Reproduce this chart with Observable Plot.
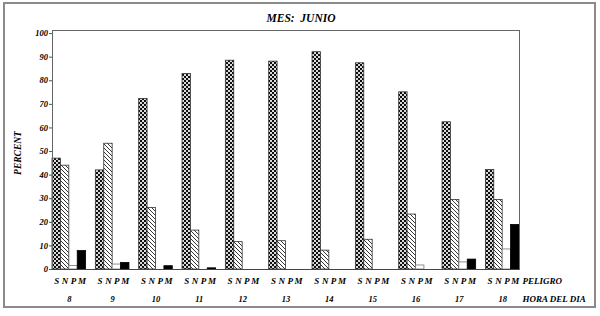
<!DOCTYPE html>
<html>
<head>
<meta charset="utf-8">
<script src="https://cdn.jsdelivr.net/npm/d3@7"></script>
<script src="https://cdn.jsdelivr.net/npm/@observablehq/plot@0.6"></script>
<style>
  html, body { margin: 0; padding: 0; background: #fff; }
  #chart { position: relative; width: 600px; height: 316px; }
</style>
</head>
<body>
<svg width="0" height="0" style="position:absolute">
  <defs>
    <pattern id="pS" width="4" height="4" patternUnits="userSpaceOnUse">
      <rect width="4" height="4" fill="#fff"/>
      <path d="M1,0V4M3,0V4M0,1H4M0,3H4" stroke="#aaa" stroke-width="0.5"/>
      <rect x="0" y="0" width="2" height="2" fill="#111"/>
      <rect x="2" y="2" width="2" height="2" fill="#111"/>
      <rect x="0.5" y="0.5" width="1" height="1" fill="#000"/>
    </pattern>
    <pattern id="pN" width="4" height="4" patternUnits="userSpaceOnUse">
      <rect width="4" height="4" fill="#fff"/>
      <path d="M-1,-1L5,5M-1,3L1,5M3,-1L5,1" stroke="#000" stroke-width="0.8"/>
    </pattern>
  </defs>
</svg>
<div id="chart"></div>
<script>
const title = "MES:  JUNIO";
const hours = [8, 9, 10, 11, 12, 13, 14, 15, 16, 17, 18];
const seriesNames = ["S", "N", "P", "M"];
const valuesS = [47, 42, 72.3, 82.9, 88.5, 88.1, 92.1, 87.4, 75.1, 62.4, 42.2];
const valuesN = [44, 53.3, 26.1, 16.5, 11.6, 12, 8, 12.6, 23.3, 29.5, 29.5];
const valuesP = [1.5, 2.1, 0, 0, 0, 0, 0, 0, 1.7, 3.0, 8.5];
const valuesM = [7.8, 2.8, 1.4, 0.5, 0, 0, 0, 0, 0, 4.2, 18.9];
const yTicks = [0, 10, 20, 30, 40, 50, 60, 70, 80, 90, 100];
const yLabel = "PERCENT";
const rowLabel1 = "PELIGRO";
const rowLabel2 = "HORA DEL DIA";

const seriesValues = {S: valuesS, N: valuesN, P: valuesP, M: valuesM};
const fills = {S: "url(#pS)", N: "url(#pN)", P: "#fff", M: "#000"};
const strokes = {S: "#333", N: "#333", P: "#777", M: "#000"};

const W = 0.194; // bar width in hour units
const bars = [];
hours.forEach((h, hi) => {
  seriesNames.forEach((s, si) => {
    bars.push({hour: h, series: s, si, value: seriesValues[s][hi]});
  });
});
const x1 = d => d.hour + (d.si - 2) * W;
const x2 = d => d.hour + (d.si - 1) * W;
const xc = d => d.hour + (d.si - 1.5) * W;

const font = {fontFamily: "'Liberation Serif', serif", fontWeight: "bold", fontStyle: "italic"};

const plot = Plot.plot({
  width: 600,
  height: 316,
  marginLeft: 52,
  marginRight: 81,
  marginTop: 30,
  marginBottom: 47,
  style: {...font, fontSize: "8px", background: "#fff", color: "#000"},
  x: {type: "linear", domain: [hours[0] - 2 * W, hours[hours.length - 1] + 2 * W], axis: null},
  y: {domain: [0, 101.3], axis: null},
  color: {type: "identity"},
  marks: [
    Plot.rect(bars.filter(d => d.value > 0), {
      x1, x2, y1: 0, y2: "value",
      fill: d => fills[d.series],
      stroke: d => strokes[d.series],
      strokeWidth: 0.8
    }),
    Plot.frame({stroke: "#666", strokeWidth: 1}),
    Plot.ruleY([0], {stroke: "#444"}),
    Plot.axisY({ticks: yTicks, label: null, tickSize: 3, tickPadding: 1.5, tickFormat: d => d, fontSize: 8.5, stroke: "#555"}),
    Plot.text(bars, {x: xc, frameAnchor: "bottom", dy: 14, text: "series", fontSize: 9}),
    Plot.text(hours, {x: d => d, frameAnchor: "bottom", dy: 32, text: d => String(d), fontSize: 8.5}),
    Plot.text([rowLabel1], {frameAnchor: "bottom-right", dx: 3, dy: 14, textAnchor: "start", text: d => d, fontSize: 9}),
    Plot.text([rowLabel2], {frameAnchor: "bottom-right", dx: 3, dy: 32, textAnchor: "start", text: d => d, fontSize: 9}),
    Plot.text([yLabel], {frameAnchor: "left", textAnchor: "middle", dx: -35, dy: 3, rotate: -90, text: d => d, fontSize: 9.5}),
    Plot.text([title], {frameAnchor: "top", dx: 15, dy: -17, text: d => d, fontSize: 11.5})
  ]
});

d3.select(plot).append("rect")
  .attr("x", 4).attr("y", 3).attr("width", 591).attr("height", 304)
  .attr("fill", "none").attr("stroke", "#8a8a8a").attr("stroke-width", 2);

document.getElementById("chart").appendChild(plot);
</script>
</body>
</html>
